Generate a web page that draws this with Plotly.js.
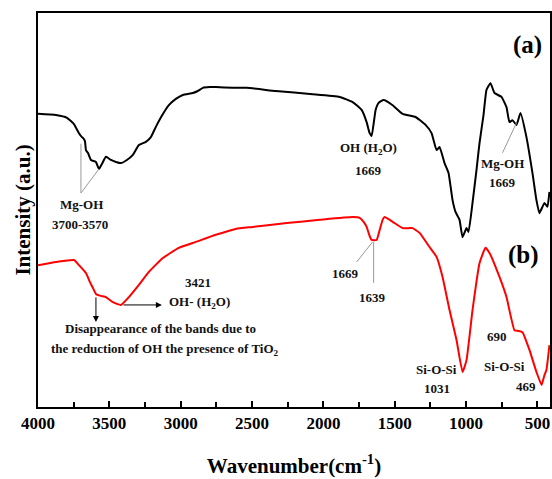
<!DOCTYPE html>
<html>
<head>
<meta charset="utf-8">
<script src="https://cdn.plot.ly/plotly-3.0.1.min.js"></script>
<style>
  html, body { margin: 0; padding: 0; background: #fff; }
  #chart { width: 552px; height: 479px; }
</style>
</head>
<body>
<div id="chart"></div>
<script>
// FTIR spectra: (a) Mg-OH bearing material, (b) after TiO2 loading
const waveA = [4000, 3874, 3797, 3748, 3713, 3692, 3685, 3671, 3664, 3650, 3629, 3608, 3594, 3573, 3552,
  3524, 3489, 3454, 3419, 3377, 3335, 3293, 3244, 3209, 3174, 3132, 3083, 3034, 2985, 2915, 2880,
  2845, 2796, 2754, 2635, 2537, 2334, 2075, 1886, 1795, 1732, 1697, 1676, 1662, 1634, 1613, 1578,
  1515, 1445, 1354, 1284, 1242, 1207, 1186, 1151, 1123, 1095, 1074, 1046, 1025, 997, 983, 955,
  927, 906, 878, 857, 829, 801, 752, 717, 696, 675, 647, 619, 577, 535, 507, 486, 451, 430, 416];
const intensityA = [74.4, 74.1, 73.4, 71.8, 69.5, 68.5, 68.3, 67.5, 65.2, 64.5, 62.7, 62.4, 62.2, 60.4, 61.7,
  63.5, 62.7, 62.2, 61.9, 62.7, 64.0, 66.5, 67.3, 68.5, 71.1, 73.9, 76.6, 78.2, 79.2, 79.7, 80.2,
  81.0, 81.2, 81.2, 81.0, 81.0, 80.2, 79.4, 78.7, 77.4, 75.4, 72.3, 69.5, 68.8, 75.4, 77.2, 77.9,
  76.6, 74.4, 73.6, 71.6, 69.5, 65.2, 66.0, 61.9, 59.4, 52.5, 49.5, 47.5, 43.1, 45.4, 44.4, 51.8,
  60.2, 67.0, 74.1, 80.5, 82.2, 79.7, 78.7, 76.1, 72.3, 72.8, 71.6, 74.6, 68.5, 59.4, 52.5, 49.2, 51.8, 50.8, 54.6];

const waveB = [4000, 3874, 3748, 3713, 3664, 3636, 3615, 3594, 3559, 3524, 3475, 3419, 3363, 3293, 3223,
  3125, 3013, 2894, 2754, 2614, 2495, 2257, 2026, 1795, 1746, 1718, 1697, 1676, 1662, 1627, 1606,
  1585, 1571, 1515, 1445, 1396, 1375, 1326, 1256, 1207, 1165, 1116, 1067, 1025, 997, 955, 906,
  864, 836, 766, 717, 661, 633, 605, 556, 507, 471, 451, 437, 416];
const intensityB = [36.0, 36.8, 37.3, 36.0, 34.0, 31.7, 30.2, 28.7, 28.2, 27.9, 26.6, 25.9, 27.9, 31.0, 34.3,
  37.8, 40.4, 41.9, 43.7, 45.2, 45.7, 46.7, 47.5, 48.2, 48.0, 47.0, 45.7, 43.4, 42.4, 42.4, 44.9,
  47.5, 48.2, 47.0, 45.4, 45.4, 45.4, 44.2, 40.6, 38.1, 33.0, 24.6, 17.0, 8.9, 11.9, 24.6, 36.5,
  40.4, 39.1, 33.0, 27.9, 19.5, 19.3, 19.0, 14.5, 8.9, 5.6, 8.1, 9.4, 15.7];

const tickVals = [4000, 3500, 3000, 2500, 2000, 1500, 1000, 500];
const tickText = ['4000', '3500', '3000', '2500', '2000', '1500', '1000', '500'];

const serif = 'Liberation Serif, Times New Roman, serif';
const labelFont = { family: serif, size: 13, color: '#111' };

function label(x, y, text, extra) {
  return Object.assign({ x: x, y: y, xref: 'x', yref: 'y', text: text, showarrow: false,
    font: labelFont, xanchor: 'center', yanchor: 'middle' }, extra || {});
}
function leader(x0, y0, x1, y1) {
  return { type: 'line', xref: 'x', yref: 'y', x0: x0, y0: y0, x1: x1, y1: y1,
    line: { color: '#999', width: 1 } };
}
function arrow(xHead, yHead, xTail, yTail) {
  return { x: xHead, y: yHead, ax: xTail, ay: yTail, xref: 'x', yref: 'y', axref: 'x', ayref: 'y',
    text: '', showarrow: true, arrowhead: 2, arrowsize: 1.2, arrowwidth: 1, arrowcolor: '#000' };
}

const traces = [
  { x: waveA, y: intensityA, type: 'scatter', mode: 'lines',
    line: { color: '#000', width: 2, shape: 'spline', smoothing: 0.4 }, hoverinfo: 'skip' },
  { x: waveB, y: intensityB, type: 'scatter', mode: 'lines',
    line: { color: '#ff0000', width: 2, shape: 'spline', smoothing: 0.4 }, hoverinfo: 'skip' }
];

const layout = {
  width: 552, height: 479,
  margin: { l: 38, r: 2, t: 13, b: 72 },
  paper_bgcolor: '#fff', plot_bgcolor: '#fff',
  showlegend: false,
  font: { family: serif, color: '#000' },
  xaxis: {
    range: [4000, 412], autorange: false,
    tickmode: 'array', tickvals: tickVals, ticktext: tickText,
    ticks: 'inside', ticklen: 6, tickwidth: 2, tickcolor: '#000',
    minor: { dtick: 250, ticks: 'inside', ticklen: 5, tickwidth: 2, tickcolor: '#000' },
    showline: true, linewidth: 2, linecolor: '#000', mirror: true,
    showgrid: false, zeroline: false,
    tickfont: { family: serif, size: 17, color: '#000', weight: 'bold' },
    title: { text: '<b>Wavenumber(cm<sup>-1</sup>)</b>', font: { family: serif, size: 21, color: '#000' }, standoff: 26 }
  },
  yaxis: {
    range: [0, 100], autorange: false,
    showticklabels: false, ticks: '',
    showline: true, linewidth: 2, linecolor: '#000', mirror: true,
    showgrid: false, zeroline: false,
    title: { text: '<b>Intensity (a.u.)</b>', font: { family: serif, size: 21, color: '#000' }, standoff: 0 }
  },
  shapes: [
    leader(3699, 66.8, 3699, 54.3),
    leader(3699, 54.3, 3573, 60.4),
    leader(745, 64.5, 647, 72.1),
    leader(1767, 36.8, 1655, 41.9),
    leader(1648, 41.9, 1648, 31.5)
  ],
  annotations: [
    label(570, 91.9, '<b>(a)</b>', { font: { family: serif, size: 25, color: '#000' } }),
    label(598, 38.6, '<b>(b)</b>', { font: { family: serif, size: 25, color: '#000' } }),
    label(3692, 51.5, '<b>Mg-OH</b>'),
    label(3706, 46.4, '<b>3700-3570</b>'),
    label(1683, 65.7, '<b>OH (H<sub>2</sub>O)</b>'),
    label(1683, 59.9, '<b>1669</b>'),
    label(745, 61.7, '<b>Mg-OH</b>'),
    label(745, 56.9, '<b>1669</b>'),
    label(2880, 31.7, '<b>3421</b>'),
    label(3097, 26.4, '<b>OH- (H<sub>2</sub>O)</b>', { xanchor: 'left' }),
    label(3139, 19.8, '<b>Disappearance of the bands due to</b>'),
    label(3111, 14.7, '<b>the reduction of OH the presence of TiO<sub>2</sub></b>'),
    label(1844, 34.0, '<b>1669</b>'),
    label(1655, 27.7, '<b>1639</b>'),
    label(780, 17.8, '<b>690</b>'),
    label(1207, 9.4, '<b>Si-O-Si</b>'),
    label(1207, 4.8, '<b>1031</b>'),
    label(731, 10.2, '<b>Si-O-Si</b>'),
    label(577, 5.1, '<b>469</b>'),
    arrow(3132, 25.9, 3412, 25.9),
    arrow(3594, 21.6, 3594, 28.2)
  ]
};

Plotly.newPlot('chart', traces, layout, { staticPlot: true, displayModeBar: false });
</script>
</body>
</html>
